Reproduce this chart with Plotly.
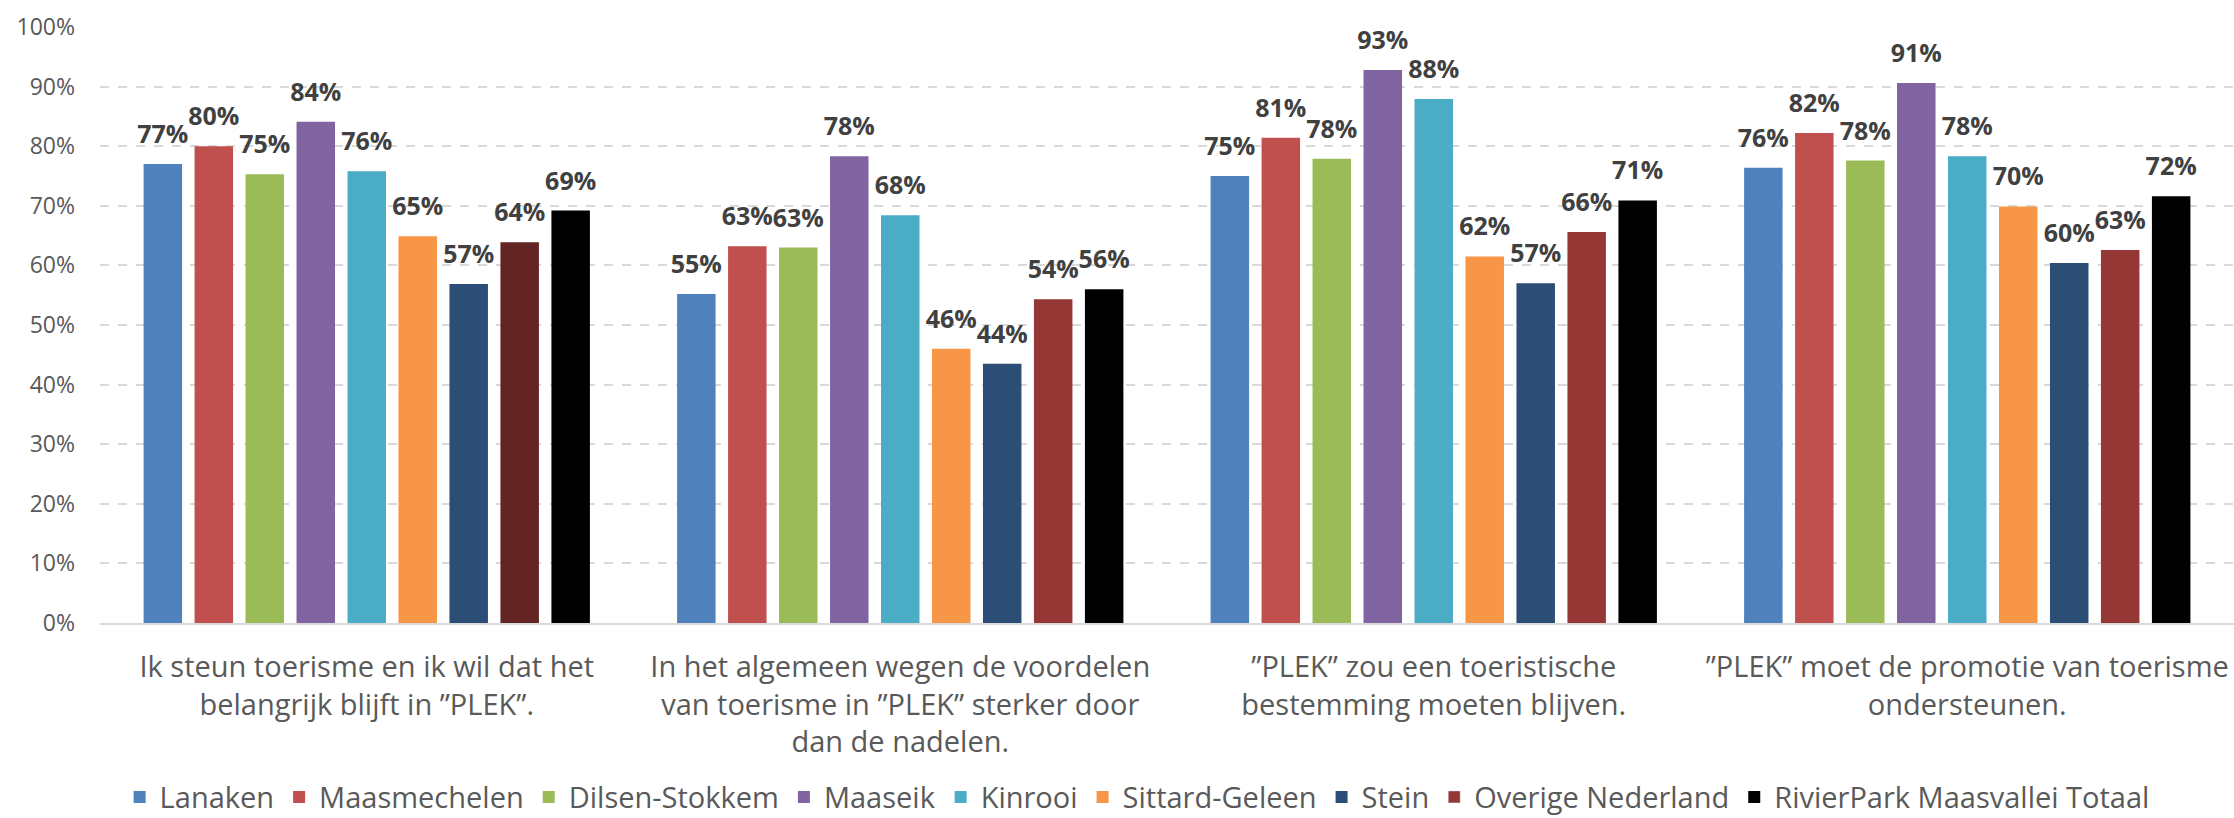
import plotly.graph_objects as go

categories = [
    "Ik steun toerisme en ik wil dat het<br>belangrijk blijft in ”PLEK”.",
    "In het algemeen wegen de voordelen<br>van toerisme in ”PLEK” sterker door<br>dan de nadelen.",
    "”PLEK” zou een toeristische<br>bestemming moeten blijven.",
    "”PLEK” moet de promotie van toerisme<br>ondersteunen.",
]

series_names = [
    "Lanaken", "Maasmechelen", "Dilsen-Stokkem", "Maaseik", "Kinrooi",
    "Sittard-Geleen", "Stein", "Overige Nederland", "RivierPark Maasvallei Totaal",
]

lanaken = [77.0, 55.2, 75.0, 76.4]
maasmechelen = [80.0, 63.2, 81.4, 82.2]
dilsen_stokkem = [75.3, 63.0, 77.9, 77.6]
maaseik = [84.1, 78.3, 92.8, 90.6]
kinrooi = [75.8, 68.4, 87.9, 78.3]
sittard_geleen = [64.9, 46.0, 61.5, 69.9]
stein = [56.9, 43.5, 57.0, 60.4]
overige_nederland = [63.9, 54.3, 65.6, 62.6]
totaal = [69.2, 56.0, 70.9, 71.6]

values = [lanaken, maasmechelen, dilsen_stokkem, maaseik, kinrooi,
          sittard_geleen, stein, overige_nederland, totaal]

colors = ["#4F81BD", "#C0504D", "#9BBB59", "#8064A2", "#4BACC6",
          "#F79646", "#2C4D75", "#953735", "#000000"]
# first group of "Overige Nederland" is drawn darker in the original
overige_colors = ["#632523", "#953735", "#953735", "#953735"]

FONT = "Open Sans"
BARGAP = 0.14

fig = go.Figure()
for i, (name, vals) in enumerate(zip(series_names, values)):
    is_overige = name == "Overige Nederland"
    col = overige_colors if is_overige else colors[i]
    fig.add_trace(go.Bar(
        x=categories, y=vals, name=name,
        marker=dict(color=col, line=dict(width=0)),
        offsetgroup=name, legendrank=i + 1,
        showlegend=not is_overige,
        hoverinfo="skip",
    ))
    if is_overige:
        # legend entry in the series' main colour
        fig.add_trace(go.Bar(
            x=[categories[0]], y=[None], name=name,
            marker=dict(color=colors[i]),
            offsetgroup=name, legendrank=i + 1,
            showlegend=True, hoverinfo="skip",
        ))
for i, (name, vals) in enumerate(zip(series_names, values)):
    fig.add_trace(go.Scatter(
        x=categories, y=vals, mode="markers+text",
        text=[f"{v:.0f}%" for v in vals],
        textposition="top center",
        textfont=dict(family=FONT, size=25, color="#404040", weight="bold"),
        marker=dict(size=22, color="rgba(0,0,0,0)"),
        offsetgroup=name, showlegend=False, hoverinfo="skip",
        cliponaxis=False,
    ))

fig.update_layout(
    width=2234, height=818,
    margin=dict(l=100, r=0, t=27, b=195, autoexpand=False),
    paper_bgcolor="white", plot_bgcolor="white",
    barmode="group", bargap=BARGAP, bargroupgap=0.245,
    scattermode="group", scattergap=BARGAP,
    font=dict(family=FONT, color="#595959"),
    showlegend=True,
    legend=dict(orientation="h", x=0.486, xanchor="center", y=-0.292, yanchor="middle",
                font=dict(family=FONT, size=29, color="#595959"),
                itemwidth=30, traceorder="normal"),
    xaxis=dict(type="category", range=[-0.5, 3.5], tickangle=0,
               tickfont=dict(family=FONT, size=29, color="#595959"),
               showline=True, linecolor="#D9D9D9", linewidth=2,
               ticks="", ticklabelstandoff=17, showgrid=False, automargin=False),
    yaxis=dict(range=[0, 100], dtick=10, ticksuffix="%",
               tickfont=dict(family=FONT, size=23, color="#595959"),
               showgrid=True, gridcolor="#D9D9D9", gridwidth=1.5, griddash="dash",
               zeroline=False, ticks="", ticklabelstandoff=24, automargin=False),
)

fig.write_html(
    "out.html",
    config={"displayModeBar": False},
    post_script="document.body.style.margin='0';document.body.style.overflow='hidden';",
)
